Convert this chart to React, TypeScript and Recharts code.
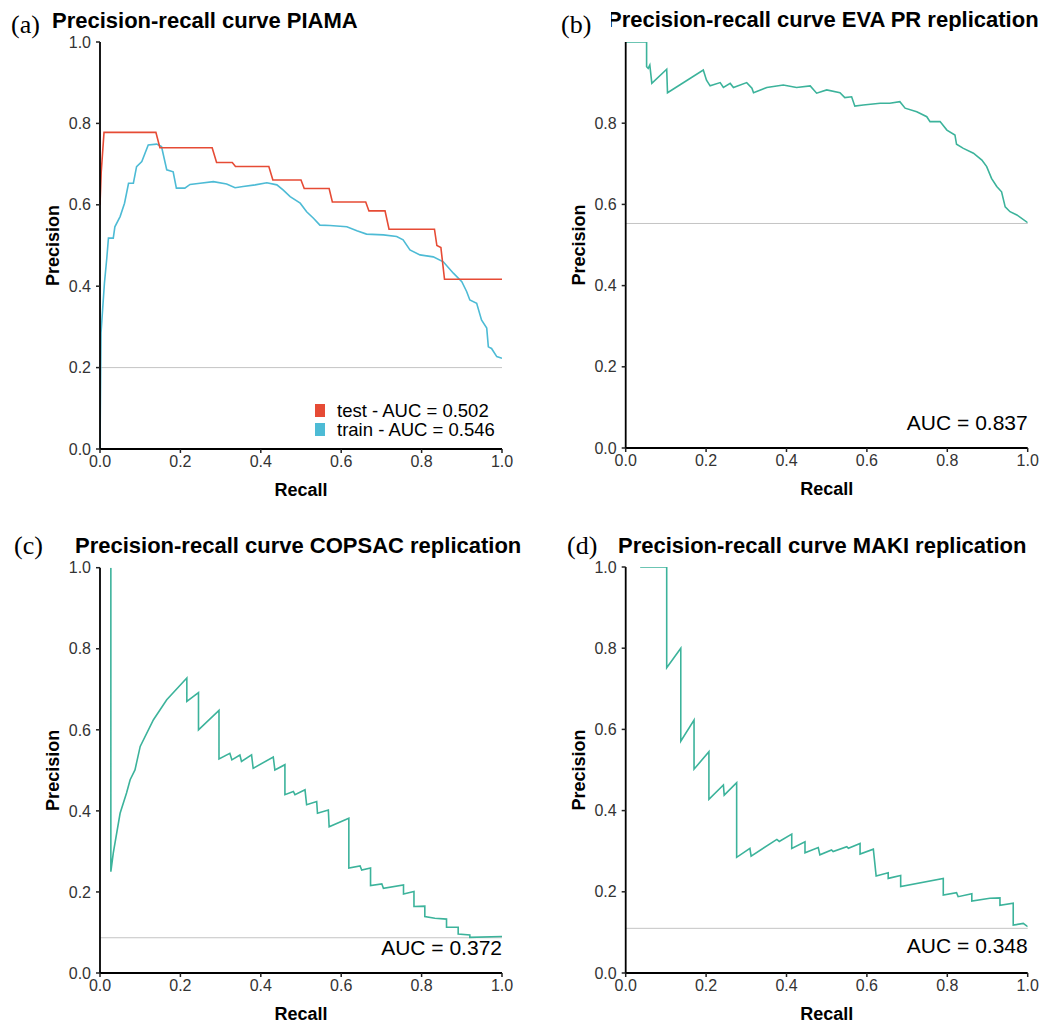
import React from 'react';
import {
  LineChart,
  Line,
  XAxis,
  YAxis,
  ReferenceLine,
  Label,
} from 'recharts';

// (a) PIAMA – test / train curves
const piamaTestRecall = [0, 0.003, 0.01, 0.139, 0.149, 0.279, 0.29, 0.329, 0.337, 0.42, 0.43, 0.5, 0.508, 0.57, 0.578, 0.661, 0.669, 0.709, 0.719, 0.832, 0.838, 0.848, 0.857, 1.0];
const piamaTestPrecision = [0.6, 0.68, 0.778, 0.778, 0.74, 0.74, 0.704, 0.704, 0.694, 0.694, 0.661, 0.661, 0.64, 0.64, 0.607, 0.607, 0.585, 0.585, 0.54, 0.54, 0.5, 0.495, 0.417, 0.417];
const piamaTrainRecall = [0, 0.0025, 0.011, 0.017, 0.021, 0.033, 0.037, 0.05, 0.061, 0.071, 0.083, 0.091, 0.104, 0.12, 0.141, 0.153, 0.166, 0.182, 0.19, 0.211, 0.224, 0.249, 0.282, 0.315, 0.336, 0.356, 0.386, 0.415, 0.44, 0.456, 0.473, 0.498, 0.514, 0.531, 0.547, 0.572, 0.614, 0.639, 0.663, 0.705, 0.738, 0.754, 0.771, 0.796, 0.829, 0.854, 0.879, 0.9, 0.912, 0.92, 0.937, 0.949, 0.962, 0.966, 0.974, 0.987, 1.0];
const piamaTrainPrecision = [0, 0.285, 0.407, 0.47, 0.518, 0.518, 0.546, 0.571, 0.604, 0.653, 0.653, 0.694, 0.706, 0.747, 0.749, 0.743, 0.686, 0.681, 0.641, 0.641, 0.65, 0.653, 0.657, 0.651, 0.642, 0.645, 0.649, 0.654, 0.649, 0.636, 0.62, 0.604, 0.583, 0.567, 0.55, 0.549, 0.546, 0.536, 0.528, 0.526, 0.522, 0.514, 0.489, 0.477, 0.472, 0.46, 0.432, 0.411, 0.387, 0.366, 0.358, 0.317, 0.297, 0.251, 0.247, 0.227, 0.223];

// (b) EVA PR replication
const evaRecall = [0, 0.052, 0.052, 0.056, 0.06, 0.065, 0.102, 0.104, 0.193, 0.201, 0.21, 0.235, 0.243, 0.26, 0.268, 0.301, 0.314, 0.318, 0.351, 0.392, 0.425, 0.459, 0.475, 0.5, 0.533, 0.545, 0.562, 0.57, 0.591, 0.633, 0.657, 0.682, 0.695, 0.724, 0.749, 0.757, 0.782, 0.799, 0.819, 0.823, 0.84, 0.865, 0.886, 0.898, 0.91, 0.923, 0.935, 0.944, 0.956, 0.973, 1.0];
const evaPrecision = [1.0, 1.0, 0.939, 0.935, 0.943, 0.898, 0.933, 0.875, 0.931, 0.906, 0.892, 0.9, 0.888, 0.898, 0.888, 0.9, 0.886, 0.875, 0.888, 0.894, 0.888, 0.892, 0.874, 0.882, 0.875, 0.863, 0.865, 0.842, 0.845, 0.849, 0.849, 0.853, 0.837, 0.828, 0.816, 0.804, 0.804, 0.783, 0.771, 0.748, 0.738, 0.726, 0.709, 0.693, 0.664, 0.644, 0.631, 0.594, 0.582, 0.574, 0.555];

// (c) COPSAC replication
const copsacRecall = [0.027, 0.027, 0.033, 0.05, 0.066, 0.075, 0.087, 0.1, 0.133, 0.166, 0.216, 0.216, 0.245, 0.245, 0.296, 0.296, 0.323, 0.328, 0.348, 0.352, 0.377, 0.381, 0.431, 0.435, 0.46, 0.46, 0.481, 0.485, 0.51, 0.514, 0.539, 0.541, 0.568, 0.57, 0.619, 0.619, 0.647, 0.651, 0.673, 0.673, 0.701, 0.705, 0.755, 0.755, 0.781, 0.781, 0.808, 0.808, 0.833, 0.862, 0.862, 0.891, 0.891, 0.92, 0.92, 1.0];
const copsacPrecision = [1.0, 0.25, 0.296, 0.394, 0.444, 0.477, 0.501, 0.559, 0.625, 0.674, 0.728, 0.67, 0.692, 0.6, 0.648, 0.528, 0.542, 0.526, 0.538, 0.522, 0.538, 0.505, 0.533, 0.501, 0.514, 0.44, 0.448, 0.44, 0.452, 0.415, 0.423, 0.394, 0.402, 0.361, 0.382, 0.259, 0.264, 0.254, 0.259, 0.216, 0.22, 0.209, 0.217, 0.195, 0.201, 0.164, 0.165, 0.139, 0.135, 0.133, 0.113, 0.113, 0.096, 0.094, 0.088, 0.09];

// (d) MAKI replication
const makiRecall = [0.036, 0.102, 0.102, 0.137, 0.137, 0.17, 0.17, 0.207, 0.207, 0.243, 0.245, 0.276, 0.276, 0.309, 0.312, 0.376, 0.382, 0.413, 0.413, 0.446, 0.446, 0.479, 0.483, 0.512, 0.516, 0.55, 0.554, 0.583, 0.583, 0.616, 0.623, 0.653, 0.653, 0.684, 0.684, 0.79, 0.79, 0.823, 0.827, 0.861, 0.861, 0.906, 0.931, 0.931, 0.964, 0.964, 0.989, 1.0];
const makiPrecision = [1.0, 1.0, 0.752, 0.8, 0.571, 0.623, 0.502, 0.545, 0.428, 0.463, 0.438, 0.469, 0.285, 0.307, 0.288, 0.329, 0.324, 0.342, 0.307, 0.323, 0.296, 0.309, 0.291, 0.303, 0.299, 0.311, 0.307, 0.319, 0.293, 0.305, 0.239, 0.247, 0.233, 0.24, 0.213, 0.233, 0.192, 0.198, 0.188, 0.195, 0.177, 0.184, 0.185, 0.167, 0.172, 0.118, 0.122, 0.114];

const axisTicks = [0, 0.2, 0.4, 0.6, 0.8, 1.0];
const evaYTicks = [0, 0.2, 0.4, 0.6, 0.8];

const FONT = '"Liberation Sans", Arial, Helvetica, sans-serif';
const SERIF = '"Liberation Serif", "Times New Roman", serif';
const RED = '#E64B35';
const BLUE = '#4DBBD5';
const TEAL = '#3CB39B';

const toPoints = (recall: number[], precision: number[]) =>
  recall.map((r, i) => ({ recall: r, precision: precision[i] }));

interface Series {
  name: string;
  color: string;
  points: { recall: number; precision: number }[];
}

interface PanelProps {
  left: number;
  top: number;
  plotLeft: number;
  plotTop: number;
  plotRight: number;
  plotBottom: number;
  series: Series[];
  baseline: number;
  yTicks: number[];
}

const W = 530;
const H = 508;
const Y_AXIS_W = 60;
const X_AXIS_H = 50;

const PrPanel = ({ left, top, plotLeft, plotTop, plotRight, plotBottom, series, baseline, yTicks }: PanelProps) => {
  const margin = {
    top: plotTop - top,
    left: plotLeft - left - Y_AXIS_W,
    right: left + W - plotRight,
    bottom: top + H - plotBottom - X_AXIS_H,
  };
  const px = plotLeft - left;
  const py = plotTop - top;
  const pw = plotRight - plotLeft;
  const ph = plotBottom - plotTop;

  return (
    <div style={{ position: 'absolute', left, top, width: W, height: H }}>
      <LineChart width={W} height={H} margin={margin}>
        <XAxis
          type="number"
          dataKey="recall"
          domain={[0, 1]}
          ticks={axisTicks}
          tickFormatter={(v: number) => v.toFixed(1)}
          height={X_AXIS_H}
          tickSize={4}
          tickMargin={3}
          axisLine={{ stroke: '#000', strokeWidth: 1.8 }}
          tickLine={{ stroke: '#222', strokeWidth: 1.5 }}
          tick={{ fill: '#333', fontSize: 16, fontFamily: FONT }}
          allowDataOverflow
          label={
            <Label
              content={() => (
                <text
                  x={px + pw / 2}
                  y={py + ph + 41}
                  textAnchor="middle"
                  dominantBaseline="central"
                  style={{ fontFamily: FONT, fontSize: 18, fontWeight: 'bold', fill: '#000' }}
                >
                  Recall
                </text>
              )}
            />
          }
        />
        <YAxis
          type="number"
          domain={[0, 1]}
          ticks={yTicks}
          tickFormatter={(v: number) => v.toFixed(1)}
          width={Y_AXIS_W}
          tickSize={4}
          tickMargin={5}
          axisLine={{ stroke: '#000', strokeWidth: 1.8 }}
          tickLine={{ stroke: '#222', strokeWidth: 1.5 }}
          tick={{ fill: '#333', fontSize: 16, fontFamily: FONT }}
          allowDataOverflow
          label={
            <Label
              content={() => (
                <text
                  x={px - 47}
                  y={py + ph / 2}
                  transform={`rotate(-90, ${px - 47}, ${py + ph / 2})`}
                  textAnchor="middle"
                  dominantBaseline="central"
                  style={{ fontFamily: FONT, fontSize: 18, fontWeight: 'bold', fill: '#000' }}
                >
                  Precision
                </text>
              )}
            />
          }
        />
        <ReferenceLine y={baseline} stroke="#C4C4C4" strokeWidth={1} />
        {series.map((s) => (
          <Line
            key={s.name}
            name={s.name}
            data={s.points}
            dataKey="precision"
            type="linear"
            stroke={s.color}
            strokeWidth={1.6}
            dot={false}
            activeDot={false}
            isAnimationActive={false}
          />
        ))}
      </LineChart>
    </div>
  );
};

const titleStyle: React.CSSProperties = {
  position: 'absolute',
  fontFamily: FONT,
  fontSize: 22,
  fontWeight: 'bold',
  lineHeight: 1,
  whiteSpace: 'nowrap',
  color: '#000',
};

const letterStyle: React.CSSProperties = {
  position: 'absolute',
  fontFamily: SERIF,
  fontSize: 26,
  lineHeight: 1,
  color: '#000',
};

const aucStyle: React.CSSProperties = {
  position: 'absolute',
  width: 200,
  textAlign: 'right',
  fontFamily: FONT,
  fontSize: 21,
  lineHeight: 1,
  color: '#000',
};

const legendText: React.CSSProperties = {
  position: 'absolute',
  fontFamily: FONT,
  fontSize: 18.5,
  lineHeight: 1,
  whiteSpace: 'nowrap',
  color: '#000',
};

export default function App() {
  return (
    <div style={{ position: 'absolute', left: 0, top: 0, width: 1059, height: 1028, background: '#fff', overflow: 'hidden' }}>
      {/* (a) */}
      <PrPanel
        left={0}
        top={0}
        plotLeft={100}
        plotTop={42}
        plotRight={502}
        plotBottom={449}
        baseline={0.2}
        yTicks={axisTicks}
        series={[
          { name: 'train', color: BLUE, points: toPoints(piamaTrainRecall, piamaTrainPrecision) },
          { name: 'test', color: RED, points: toPoints(piamaTestRecall, piamaTestPrecision) },
        ]}
      />
      {/* (b) */}
      <PrPanel
        left={530}
        top={0}
        plotLeft={625.7}
        plotTop={42}
        plotRight={1027.7}
        plotBottom={448}
        baseline={0.553}
        yTicks={evaYTicks}
        series={[{ name: 'eva', color: TEAL, points: toPoints(evaRecall, evaPrecision) }]}
      />
      {/* (c) */}
      <PrPanel
        left={0}
        top={520}
        plotLeft={100}
        plotTop={567.7}
        plotRight={502}
        plotBottom={973}
        baseline={0.087}
        yTicks={axisTicks}
        series={[{ name: 'copsac', color: TEAL, points: toPoints(copsacRecall, copsacPrecision) }]}
      />
      {/* (d) */}
      <PrPanel
        left={530}
        top={520}
        plotLeft={625.7}
        plotTop={567}
        plotRight={1027.7}
        plotBottom={973}
        baseline={0.11}
        yTicks={axisTicks}
        series={[{ name: 'maki', color: TEAL, points: toPoints(makiRecall, makiPrecision) }]}
      />

      {/* titles and panel letters */}
      <div style={{ ...letterStyle, left: 11, top: 12 }}>(a)</div>
      <div style={{ ...titleStyle, left: 52, top: 10 }}>Precision-recall curve PIAMA</div>

      <div style={{ ...letterStyle, left: 561, top: 12 }}>(b)</div>
      <div style={{ ...titleStyle, left: 611, top: 9, width: 446, overflow: 'hidden' }}>
        <span style={{ display: 'inline-block', marginLeft: -4 }}>Precision-recall curve EVA PR replication</span>
      </div>

      <div style={{ ...letterStyle, left: 14, top: 533 }}>(c)</div>
      <div style={{ ...titleStyle, left: 75, top: 535 }}>Precision-recall curve COPSAC replication</div>

      <div style={{ ...letterStyle, left: 567, top: 533 }}>(d)</div>
      <div style={{ ...titleStyle, left: 618, top: 535 }}>Precision-recall curve MAKI replication</div>

      {/* legend (a) */}
      <div style={{ position: 'absolute', left: 315, top: 404, width: 10, height: 13, background: RED }} />
      <div style={{ position: 'absolute', left: 315, top: 423, width: 10, height: 13, background: BLUE }} />
      <div style={{ ...legendText, left: 337, top: 402 }}>test - AUC = 0.502</div>
      <div style={{ ...legendText, left: 337, top: 421 }}>train - AUC = 0.546</div>

      {/* AUC annotations */}
      <div style={{ ...aucStyle, left: 1027.7 - 200, top: 412 }}>AUC = 0.837</div>
      <div style={{ ...aucStyle, left: 502 - 200, top: 936.5 }}>AUC = 0.372</div>
      <div style={{ ...aucStyle, left: 1027.7 - 200, top: 935 }}>AUC = 0.348</div>
    </div>
  );
}
